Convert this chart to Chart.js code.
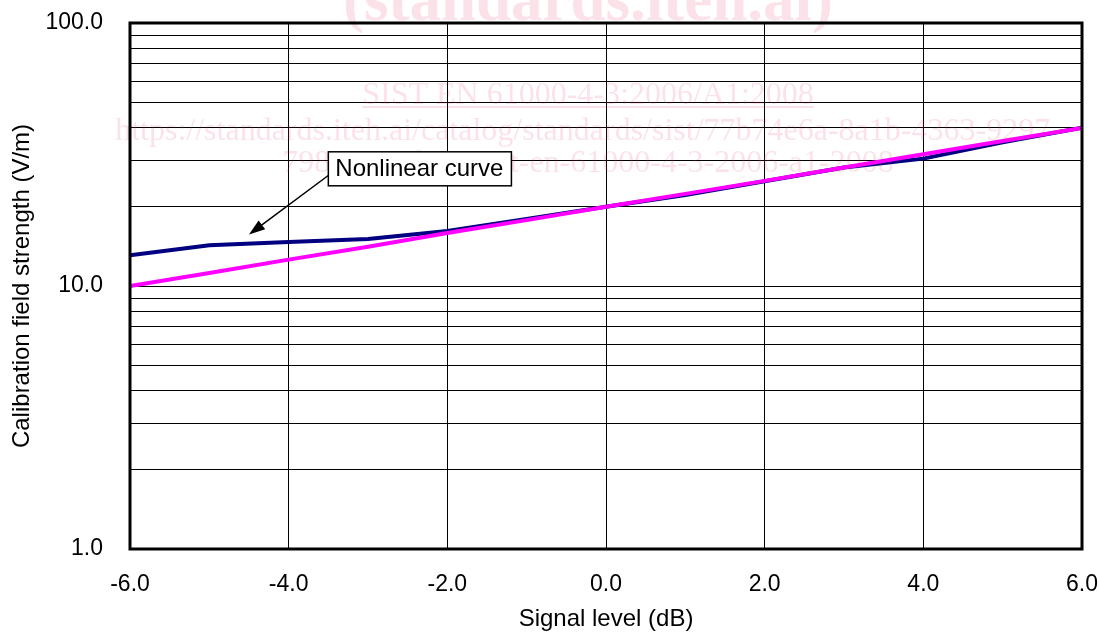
<!DOCTYPE html>
<html>
<head>
<meta charset="utf-8">
<script src="https://cdn.jsdelivr.net/npm/chart.js@4"></script>
<style>
  html, body { margin: 0; padding: 0; background: #fff; }
  #wrap { width: 1099px; height: 637px; position: relative; }
</style>
</head>
<body>
<div id="wrap"><canvas id="chart"></canvas></div>
<script>
// signal levels (dB)
const signalLevels = [-6, -5, -4, -3, -2, -1, 0, 1, 2, 3, 4, 5, 6];
// measured field strength (V/m), nonlinear
const nonlinearCurve = [13.1, 14.3, 14.7, 15.1, 16.2, 18.0, 20.0, 22.2, 25.0, 28.2, 30.5, 35.2, 40.0];
// ideal linear response (V/m)
const linearCurve = [10.0, 11.2, 12.6, 14.1, 15.9, 17.8, 20.0, 22.4, 25.1, 28.2, 31.7, 35.6, 39.9];
const yLabelTicks = [1, 10, 100];

// callout: box left edge / centre and arrow, in data units
const callout = { text: 'Nonlinear curve', x: -3.5, y: 27.9, arrowFrom: [-3.48, 26.6], arrowTo: [-4.5, 15.7] };

const watermark = [
  { text: '(standards.iteh.ai)', font: 'bold 63px "Liberation Serif", serif', y: 20 },
  { text: 'SIST EN 61000-4-3:2006/A1:2008', font: '32px "Liberation Serif", serif', y: 104, underline: true },
  { text: 'https://standards.iteh.ai/catalog/standards/sist/77b74e6a-8a1b-4363-9297-', font: '32px "Liberation Serif", serif', y: 140 },
  { text: '79864309fa77/sist-en-61000-4-3-2006-a1-2008', font: '32px "Liberation Serif", serif', y: 172 }
];

const FONT = '"Liberation Sans", Arial, sans-serif';

const overlay = {
  id: 'overlay',
  afterDatasetsDraw(chart) {
    const ctx = chart.ctx;
    const cx = 588;
    // watermark
    ctx.save();
    ctx.fillStyle = 'rgba(225, 60, 100, 0.15)';
    ctx.strokeStyle = 'rgba(225, 60, 100, 0.15)';
    ctx.textAlign = 'center';
    ctx.textBaseline = 'alphabetic';
    watermark.forEach(w => {
      ctx.font = w.font;
      ctx.fillText(w.text, cx, w.y);
      if (w.underline) {
        const tw = ctx.measureText(w.text).width;
        ctx.lineWidth = 2;
        ctx.beginPath();
        ctx.moveTo(cx - tw / 2, w.y + 3);
        ctx.lineTo(cx + tw / 2, w.y + 3);
        ctx.stroke();
      }
    });
    ctx.restore();
  },
  afterDraw(chart) {
    const ctx = chart.ctx;
    const a = chart.chartArea;
    const xs = chart.scales.x, ys = chart.scales.y;
    ctx.save();
    // frame
    ctx.strokeStyle = '#000';
    ctx.lineWidth = 3;
    ctx.strokeRect(a.left, a.top, a.right - a.left, a.bottom - a.top);

    // arrow
    const x1 = xs.getPixelForValue(callout.arrowFrom[0]), y1 = ys.getPixelForValue(callout.arrowFrom[1]);
    const x2 = xs.getPixelForValue(callout.arrowTo[0]), y2 = ys.getPixelForValue(callout.arrowTo[1]);
    const ang = Math.atan2(y2 - y1, x2 - x1);
    const head = 17;
    ctx.lineWidth = 1.5;
    ctx.beginPath();
    ctx.moveTo(x1, y1);
    ctx.lineTo(x2 - Math.cos(ang) * head * 0.8, y2 - Math.sin(ang) * head * 0.8);
    ctx.stroke();
    ctx.fillStyle = '#000';
    ctx.beginPath();
    ctx.moveTo(x2, y2);
    ctx.lineTo(x2 - head * Math.cos(ang - 0.33), y2 - head * Math.sin(ang - 0.33));
    ctx.lineTo(x2 - head * Math.cos(ang + 0.33), y2 - head * Math.sin(ang + 0.33));
    ctx.closePath();
    ctx.fill();

    // label box
    ctx.font = '24px ' + FONT;
    const tw = ctx.measureText(callout.text).width;
    const bx = xs.getPixelForValue(callout.x);
    const by = ys.getPixelForValue(callout.y);
    const bw = tw + 15, bh = 34;
    ctx.fillStyle = '#fff';
    ctx.fillRect(bx, by - bh / 2, bw, bh);
    ctx.lineWidth = 1.5;
    ctx.strokeRect(bx, by - bh / 2, bw, bh);
    ctx.fillStyle = '#000';
    ctx.textAlign = 'left';
    ctx.textBaseline = 'middle';
    ctx.fillText(callout.text, bx + 7, by + 1);
    ctx.restore();
  }
};

new Chart(document.getElementById('chart'), {
  type: 'line',
  data: {
    labels: signalLevels,
    datasets: [
      {
        label: 'Linear',
        data: signalLevels.map((x, i) => ({ x, y: linearCurve[i] })),
        borderColor: '#FF00FF',
        borderWidth: 4,
        pointRadius: 0,
        tension: 0
      },
      {
        label: 'Nonlinear curve',
        data: signalLevels.map((x, i) => ({ x, y: nonlinearCurve[i] })),
        borderColor: '#000080',
        borderWidth: 4,
        pointRadius: 0,
        tension: 0
      }
    ]
  },
  options: {
    responsive: true,
    maintainAspectRatio: false,
    animation: false,
    devicePixelRatio: 1,
    layout: { padding: { top: 23, right: 17, left: 0, bottom: 0 } },
    plugins: { legend: { display: false }, tooltip: { enabled: false } },
    scales: {
      x: {
        type: 'linear',
        min: -6,
        max: 6,
        afterFit(scale) {
          scale.height = 88;
          scale.paddingLeft = 0;
          scale.paddingRight = 0;
        },
        ticks: {
          stepSize: 2,
          color: '#000',
          font: { family: FONT, size: 23 },
          padding: 22,
          maxRotation: 0,
          callback: v => Number(v).toFixed(1)
        },
        grid: { color: '#000', lineWidth: 1, drawTicks: false },
        border: { display: false },
        title: {
          display: true,
          text: 'Signal level (dB)',
          color: '#000',
          font: { family: FONT, size: 24 },
          padding: { top: 3, bottom: 3 }
        }
      },
      y: {
        type: 'logarithmic',
        min: 1,
        max: 100,
        afterFit(scale) {
          scale.width = 130;
          scale.paddingTop = 0;
          scale.paddingBottom = 0;
        },
        afterBuildTicks(scale) {
          const t = [];
          for (let d = 1; d <= 10; d *= 10) {
            for (let m = 1; m < 10; m++) t.push({ value: m * d });
          }
          t.push({ value: 100 });
          scale.ticks = t;
        },
        ticks: {
          color: '#000',
          font: { family: FONT, size: 23 },
          padding: 27,
          autoSkip: false,
          callback: v => yLabelTicks.includes(v) ? Number(v).toFixed(1) : ''
        },
        grid: { color: '#000', lineWidth: 1, drawTicks: false },
        border: { display: false },
        title: {
          display: true,
          text: 'Calibration field strength (V/m)',
          color: '#000',
          font: { family: FONT, size: 24 },
          padding: { top: 8, bottom: 0 }
        }
      }
    }
  },
  plugins: [overlay]
});
</script>
</body>
</html>
